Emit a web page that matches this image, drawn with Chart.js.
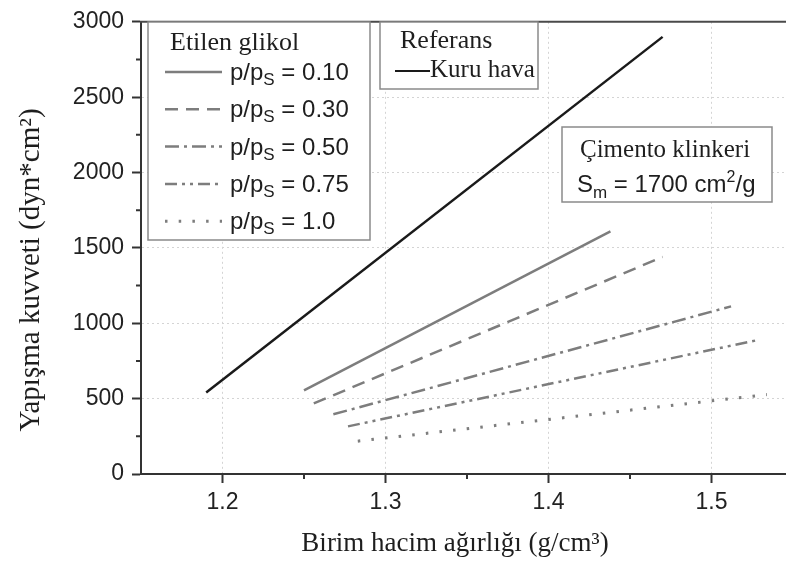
<!DOCTYPE html>
<html>
<head>
<meta charset="utf-8">
<script src="https://cdn.jsdelivr.net/npm/chart.js@4"></script>
<style>
  html, body { margin: 0; padding: 0; background: #fff; overflow: hidden; }
  canvas { display: block; }
</style>
</head>
<body>
<canvas id="chart" width="800" height="566"></canvas>
<script>
// axis ticks
const xTicks = [1.2, 1.3, 1.4, 1.5]
const yTicks = [0, 500, 1000, 1500, 2000, 2500, 3000]
const xMinor = [1.25, 1.35, 1.45]
const yMinor = [250, 750, 1250, 1750, 2250, 2750]

// reference line (dry air)
const kuruX = [1.19, 1.47]
const kuruY = [540, 2900]

// ethylene glycol, relative pressure series
const seriesLabels = ["0.10", "0.30", "0.50", "0.75", "1.0"]
const p010X = [1.25, 1.438]
const p010Y = [555, 1610]
const p030X = [1.256, 1.47]
const p030Y = [468, 1440]
const p050X = [1.268, 1.512]
const p050Y = [396, 1112]
const p075X = [1.277, 1.529]
const p075Y = [316, 890]
const p100X = [1.283, 1.534]
const p100Y = [218, 527]

const SANS = "'Liberation Sans', Arial, sans-serif"
const SERIF = "'Liberation Serif', 'Times New Roman', serif"
const GRAY = "#7d7d7d"
const dashes = [[], [13, 8], [14, 5, 3, 5], [12, 5, 3, 5, 3, 5], [2.5, 11.2]]

const zip = (xs, ys) => xs.map((x, i) => ({ x, y: ys[i] }))

const glycol = [
  [p010X, p010Y], [p030X, p030Y], [p050X, p050Y], [p075X, p075Y], [p100X, p100Y]
].map(([xs, ys], i) => ({
  label: "p/pS = " + seriesLabels[i],
  data: zip(xs, ys),
  borderColor: GRAY,
  borderWidth: i === 4 ? 3 : 2.5,
  borderDash: dashes[i],
  showLine: true,
  pointRadius: 0
}))

const datasets = [
  {
    label: "Kuru hava",
    data: zip(kuruX, kuruY),
    borderColor: "#1a1a1a",
    borderWidth: 2.5,
    showLine: true,
    pointRadius: 0
  },
  ...glycol
]

function box(ctx, x1, y1, x2, y2) {
  ctx.fillStyle = "#fff"
  ctx.fillRect(x1, y1, x2 - x1, y2 - y1)
  ctx.strokeStyle = "#8a8a8a"
  ctx.lineWidth = 1.5
  ctx.setLineDash([])
  ctx.strokeRect(x1, y1, x2 - x1, y2 - y1)
}

// draws text pieces in a row; each piece: [text, font, baselineShift]
function runs(ctx, x, y, parts) {
  ctx.textAlign = "left"
  ctx.textBaseline = "alphabetic"
  for (const [t, font, dy] of parts) {
    ctx.font = font
    ctx.fillText(t, x, y + dy)
    x += ctx.measureText(t).width
  }
}

const extras = {
  id: "extras",
  afterDraw(chart) {
    const { ctx, chartArea: a, scales: { x, y } } = chart
    ctx.save()

    // top frame line
    ctx.strokeStyle = "#4a4a4a"
    ctx.lineWidth = 2
    ctx.beginPath()
    ctx.moveTo(a.left - 1, a.top)
    ctx.lineTo(chart.width, a.top)
    ctx.stroke()

    // minor ticks
    ctx.strokeStyle = "#333"
    ctx.lineWidth = 2
    ctx.beginPath()
    xMinor.forEach(v => {
      const px = x.getPixelForValue(v)
      ctx.moveTo(px, a.bottom)
      ctx.lineTo(px, a.bottom + 5)
    })
    yMinor.forEach(v => {
      const py = y.getPixelForValue(v)
      ctx.moveTo(a.left, py)
      ctx.lineTo(a.left - 5, py)
    })
    ctx.stroke()

    // axis titles
    ctx.fillStyle = "#1e1e1e"
    ctx.font = "27px " + SERIF
    ctx.textAlign = "center"
    ctx.textBaseline = "alphabetic"
    ctx.fillText("Birim hacim ağırlığı (g/cm³)", 455, 551)
    ctx.save()
    ctx.translate(39, 270)
    ctx.rotate(-Math.PI / 2)
    ctx.font = "29px " + SERIF
    ctx.fillText("Yapışma kuvveti (dyn*cm²)", 0, 0)
    ctx.restore()

    // glycol legend
    box(ctx, 148, 22, 370, 240)
    ctx.fillStyle = "#1e1e1e"
    runs(ctx, 170, 50, [["Etilen glikol", "26px " + SERIF, 0]])
    glycol.forEach((ds, i) => {
      const base = 80 + i * 37.3
      ctx.strokeStyle = ds.borderColor
      ctx.lineWidth = ds.borderWidth
      ctx.setLineDash(ds.borderDash)
      ctx.beginPath()
      ctx.moveTo(165, base - 8)
      ctx.lineTo(222, base - 8)
      ctx.stroke()
      ctx.setLineDash([])
      ctx.fillStyle = "#1e1e1e"
      runs(ctx, 230, base, [
        ["p/p", "24px " + SANS, 0],
        ["S", "17px " + SANS, 5],
        [" = " + seriesLabels[i], "24px " + SANS, 0]
      ])
    })

    // reference legend
    box(ctx, 380, 22, 538, 89)
    ctx.fillStyle = "#1e1e1e"
    runs(ctx, 400, 48, [["Referans", "26px " + SERIF, 0]])
    ctx.strokeStyle = "#1a1a1a"
    ctx.lineWidth = 2
    ctx.beginPath()
    ctx.moveTo(395, 71)
    ctx.lineTo(430, 71)
    ctx.stroke()
    runs(ctx, 430, 77, [["Kuru hava", "25px " + SERIF, 0]])

    // material note
    box(ctx, 562, 127, 772, 202)
    ctx.fillStyle = "#1e1e1e"
    runs(ctx, 580, 157, [["Çimento klinkeri", "25px " + SERIF, 0]])
    runs(ctx, 577, 192, [
      ["S", "24px " + SANS, 0],
      ["m", "17px " + SANS, 6],
      [" = 1700 cm", "24px " + SANS, 0],
      ["2", "16px " + SANS, -10],
      ["/g", "24px " + SANS, 0]
    ])

    ctx.restore()
  }
}

new Chart(document.getElementById("chart"), {
  type: "scatter",
  data: { datasets },
  plugins: [extras],
  options: {
    responsive: false,
    animation: false,
    devicePixelRatio: 1,
    layout: { padding: { top: 19, right: 7, bottom: 0, left: 0 } },
    plugins: { legend: { display: false }, tooltip: { enabled: false } },
    scales: {
      x: {
        type: "linear",
        min: 1.15,
        max: 1.55,
        afterBuildTicks: s => { s.ticks = xTicks.map(v => ({ value: v })) },
        afterFit: s => { s.height = 92 },
        ticks: {
          font: { family: SANS, size: 23 },
          color: "#222",
          padding: 6,
          maxRotation: 0,
          callback: v => v.toFixed(1)
        },
        grid: { color: "#d4d4d4", lineWidth: 1, tickColor: "#333", tickLength: 9, tickWidth: 2, tickBorderDash: [] },
        border: { color: "#333", width: 2, dash: [2, 3] }
      },
      y: {
        min: 0,
        max: 3000,
        afterBuildTicks: s => { s.ticks = yTicks.map(v => ({ value: v })) },
        afterFit: s => { s.width = 141 },
        ticks: {
          font: { family: SANS, size: 23 },
          color: "#222",
          padding: 8,
          callback: v => String(v)
        },
        grid: { color: "#d4d4d4", lineWidth: 1, tickColor: "#333", tickLength: 9, tickWidth: 2, tickBorderDash: [] },
        border: { color: "#333", width: 2, dash: [2, 3] }
      }
    }
  }
})
</script>
</body>
</html>
